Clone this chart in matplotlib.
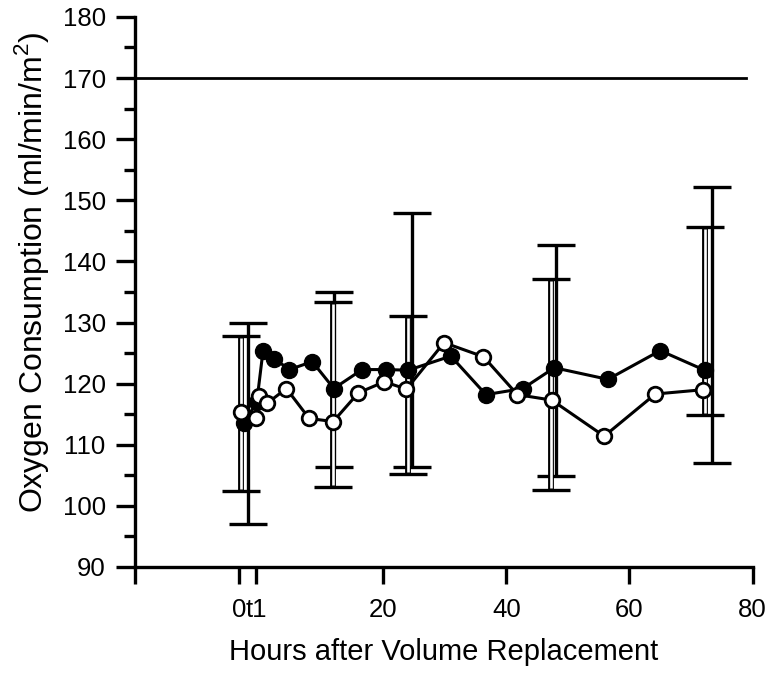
import matplotlib
matplotlib.use("Agg")
import matplotlib.pyplot as plt
from matplotlib.ticker import MultipleLocator

plt.rcParams['font.family'] = ['Liberation Sans', 'DejaVu Sans']

# ---- data ----
filled_hours = [-2.6, -0.5, 0.5, 2.3, 4.8, 8.5, 12.0, 16.6, 20.4, 24.1, 31.0, 36.7, 42.7, 47.8, 56.5, 65.0, 72.2]
filled_vals = [113.5, 117.0, 125.3, 124.1, 122.3, 123.6, 119.2, 122.3, 122.3, 122.2, 124.5, 118.2, 119.2, 122.6, 120.7, 125.4, 122.2]

open_hours = [-3.0, -0.6, -0.2, 1.2, 4.3, 8.0, 11.9, 16.0, 20.2, 23.8, 29.9, 36.3, 41.8, 47.4, 55.9, 64.2, 71.9]
open_vals = [115.3, 114.4, 117.9, 116.8, 119.2, 114.3, 113.8, 118.5, 120.3, 119.1, 126.7, 124.4, 118.2, 117.3, 111.4, 118.3, 119.0]

# error bars (position, lower, upper)
filled_err_hours = [-1.95, 12.1, 24.7, 48.1, 73.4]
filled_err_low = [97.0, 106.4, 106.4, 104.9, 107.0]
filled_err_high = [129.9, 135.0, 147.9, 142.7, 152.2]

open_err_hours = [-3.0, 11.9, 24.1, 47.3, 72.2]
open_err_low = [102.4, 103.1, 105.2, 102.6, 114.9]
open_err_high = [127.8, 133.3, 131.1, 137.1, 145.6]

reference_value = 170
x_tick_pos = [-20.3, -3.4, -0.6, 20, 40, 60, 80]
x_tick_labels = ['', '0', 't1', '20', '40', '60', '80']
y_ticks = [90, 100, 110, 120, 130, 140, 150, 160, 170, 180]

# ---- figure ----
fig = plt.figure(figsize=(7.84, 6.75), dpi=100)
ax = fig.add_axes([0.172, 0.16, 0.788, 0.815])
ax.set_xlim(-20.3, 80)
ax.set_ylim(90, 180)

# error bars
def draw_err(xs, lo, hi, hollow):
    for x, l, h in zip(xs, lo, hi):
        m = (l + h) / 2
        ax.errorbar([x], [m], yerr=[[m - l], [h - m]],
                    fmt='none', ecolor='black', elinewidth=4.2 if hollow else 2.4,
                    capsize=14, capthick=2.4, zorder=2)
        if hollow:
            ax.vlines(x, l + 0.35, h - 0.35, color='white', lw=1.9, zorder=2.5)

draw_err(open_err_hours, open_err_low, open_err_high, True)
draw_err(filled_err_hours, filled_err_low, filled_err_high, False)

ax.plot(filled_hours, filled_vals, '-o', color='black', lw=2.2, ms=11.5,
        mfc='black', mec='black', zorder=4)
ax.plot(open_hours, open_vals, '-o', color='black', lw=2.2, ms=10.5,
        mfc='white', mec='black', mew=2.0, zorder=5)

ax.axhline(reference_value, xmin=0, xmax=0.99, color='black', lw=2.0, zorder=1)

# axes styling
for s in ['top', 'right']:
    ax.spines[s].set_visible(False)
for s in ['left', 'bottom']:
    ax.spines[s].set_linewidth(2.4)

ax.set_xticks(x_tick_pos)
ax.set_xticklabels(x_tick_labels)
ax.set_yticks(y_ticks)
ax.yaxis.set_minor_locator(MultipleLocator(5))
ax.tick_params(axis='x', which='major', direction='out', length=12, width=2.4,
               labelsize=18.5, pad=10)
ax.tick_params(axis='y', which='major', direction='out', length=14, width=2.4,
               labelsize=18.5, pad=7)
ax.tick_params(axis='y', which='minor', direction='out', length=8, width=2.4)

ax.set_xlabel('Hours after Volume Replacement', fontsize=21, labelpad=12)
ax.set_ylabel('Oxygen Consumption (ml/min/m$^\\mathregular{2}$)', fontsize=23)
ax.yaxis.set_label_coords(-0.135, 0.536)

fig.savefig('out.png', dpi=100)
